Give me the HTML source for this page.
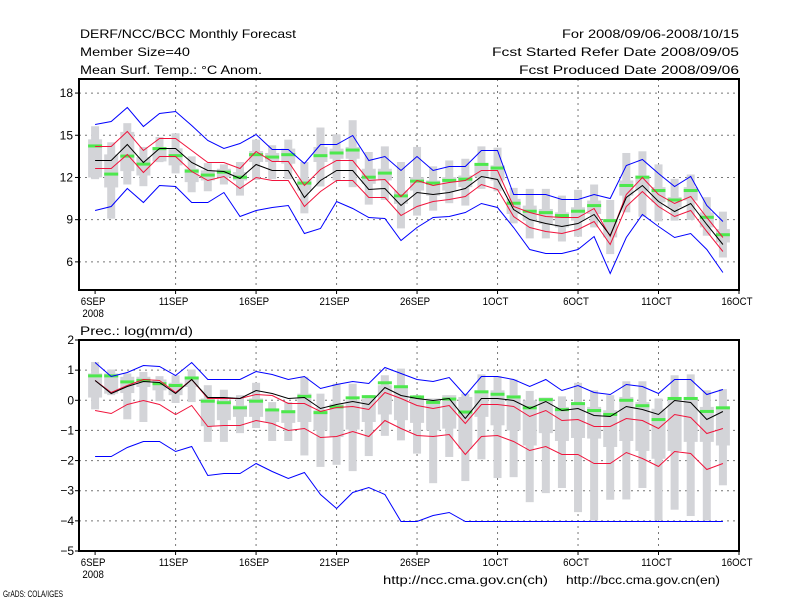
<!DOCTYPE html>
<html><head><meta charset="utf-8">
<style>
html,body{margin:0;padding:0;background:#fff;}
svg{display:block;}
text{font-family:"Liberation Sans",sans-serif;font-size:12px;fill:#000;}
</style></head>
<body>
<svg id="chart" width="800" height="600" viewBox="0 0 800 600" xmlns="http://www.w3.org/2000/svg">
<rect x="0" y="0" width="800" height="600" fill="#fff"/>
<g>
<text x="80" y="38" textLength="216" lengthAdjust="spacingAndGlyphs">DERF/NCC/BCC Monthly Forecast</text>
<text x="80" y="56" textLength="110" lengthAdjust="spacingAndGlyphs">Member Size=40</text>
<text x="80" y="74" textLength="182" lengthAdjust="spacingAndGlyphs">Mean Surf. Temp.: °C Anom.</text>
<text x="562" y="38" textLength="177" lengthAdjust="spacingAndGlyphs">For 2008/09/06-2008/10/15</text>
<text x="492" y="56" textLength="247" lengthAdjust="spacingAndGlyphs">Fcst Started Refer Date 2008/09/05</text>
<text x="519" y="74" textLength="220" lengthAdjust="spacingAndGlyphs">Fcst Produced Date 2008/09/06</text>
<text x="80" y="335" textLength="113" lengthAdjust="spacingAndGlyphs">Prec.: log(mm/d)</text>
<text x="383" y="584" textLength="165" lengthAdjust="spacingAndGlyphs">http://ncc.cma.gov.cn(ch)</text>
<text x="566" y="584" textLength="154" lengthAdjust="spacingAndGlyphs">http://bcc.cma.gov.cn(en)</text>
</g>
<text x="3" y="597" style="font-size:9px" textLength="60" lengthAdjust="spacingAndGlyphs">GrADS: COLA/IGES</text>
<g id="top"></g>
<g id="bot"></g>
</svg>
<script>
// ---- temperature panel data ----
const tBlueHi=[15.83,16.02,17.02,15.64,16.56,16.69,15.74,14.69,14.12,14.48,15.12,14.0,14.0,13.02,14.4,14.36,15.05,13.21,13.5,12.55,13.5,12.5,12.79,12.79,13.93,13.93,10.83,10.83,10.83,10.48,10.48,10.83,10.55,12.86,13.29,12.31,11.4,12.07,10.07,8.93];
const tBlueLo=[9.69,9.98,11.26,10.26,11.5,11.4,10.29,10.29,10.95,9.26,9.69,9.93,10.07,8.05,8.4,10.31,9.83,9.17,9.1,7.55,8.45,9.17,9.29,9.52,10.17,9.93,8.45,6.9,6.6,6.6,6.9,7.81,5.19,7.74,9.4,8.57,7.74,8.02,6.9,5.31];
const tRedHi=[14.21,14.21,15.31,13.98,14.83,14.83,13.93,13.1,13.07,12.69,13.86,13.14,13.14,11.43,12.62,13.21,13.21,11.79,11.9,10.71,11.79,11.5,11.67,11.83,12.55,12.5,10.0,9.57,9.29,9.17,9.17,9.81,7.86,10.83,12.02,10.83,10.17,10.71,9.21,7.74];
const tMean=[13.26,13.26,14.4,13.1,14.12,14.12,13.1,12.5,12.45,11.98,12.98,12.5,12.5,10.6,11.79,12.5,12.5,11.19,11.26,10.05,10.95,10.83,10.95,11.26,12.07,11.9,9.76,9.05,8.74,8.57,8.74,9.4,7.93,10.64,11.43,10.36,9.64,10.17,8.69,7.26];
const tRedLo=[12.69,12.69,13.69,12.4,13.55,13.5,12.45,11.83,12.07,11.26,12.02,11.83,11.83,9.98,11.07,11.83,11.83,10.64,10.64,9.33,10.0,10.31,10.48,10.71,11.55,11.19,9.29,8.45,8.21,8.02,8.33,8.93,7.26,10.0,11.07,10.0,9.29,9.69,8.21,6.79];
const tObs=[14.24,12.24,13.52,12.95,14.05,13.55,12.45,12.17,12.38,12.02,13.62,13.45,13.62,11.6,13.55,13.74,13.95,12.02,12.31,10.69,11.74,11.6,11.79,11.88,12.93,12.67,10.17,9.6,9.5,9.29,9.6,10.0,8.93,11.43,12.02,11.07,10.4,11.07,9.17,7.93];
const tWhiskHi=[15.64,14.5,15.86,14.17,14.88,15.14,13.5,13.02,12.93,13.1,14.69,14.29,14.69,13.1,15.55,15.07,16.07,13.81,14.21,13.1,14.17,12.79,13.21,13.33,14.21,14.12,11.26,11.19,11.19,10.71,11.12,11.5,10.4,13.74,13.86,12.93,11.9,12.21,10.6,9.57];
const tWhiskLo=[11.88,9.07,11.5,11.38,13.09,12.29,10.95,11.02,11.5,10.71,11.83,11.88,11.88,9.45,11.36,11.79,11.31,10.07,10.4,8.38,9.29,9.64,10.17,10.0,11.19,11.02,8.74,7.67,7.67,7.45,7.79,8.45,6.55,9.52,9.21,8.88,8.93,8.98,7.86,6.31];
const tBoxHi=[14.71,13.64,15.24,13.45,14.17,14.07,12.62,12.5,12.62,12.38,13.88,13.74,14.05,11.9,14.17,14.05,14.17,12.62,12.62,11.07,12.02,11.79,12.02,12.14,12.98,12.86,10.48,10.0,9.76,9.52,9.88,10.36,9.05,11.79,12.14,11.31,10.6,11.31,9.52,8.33];
const tBoxLo=[12.0,11.29,12.45,12.14,13.14,12.86,11.67,11.79,12.02,11.79,13.1,13.1,12.98,11.07,13.1,13.33,13.33,11.55,11.79,10.12,11.07,10.71,11.07,11.31,12.02,11.79,9.4,8.93,8.69,8.45,8.93,9.4,7.74,10.71,11.07,10.24,9.88,10.36,8.45,7.38];
const tTicks=[18,15,12,9,6];
// ---- precipitation panel data ----
const pBlueHi=[1.27,0.8,0.94,1.16,1.13,0.83,1.27,0.69,0.72,0.72,0.97,0.86,0.72,0.8,0.42,0.55,0.64,0.59,1.11,0.89,0.72,0.64,0.78,0.17,0.8,0.8,0.69,0.47,0.72,0.35,0.5,0.28,0.2,0.53,0.47,0.24,0.72,0.72,0.2,0.39];
const pBlueLo=[-1.86,-1.86,-1.55,-1.35,-1.35,-1.69,-1.5,-2.49,-2.4,-2.4,-2.07,-2.35,-2.57,-2.38,-3.1,-3.58,-3.05,-2.88,-3.1,-3.99,-4.02,-3.79,-3.71,-4.02,-4.02,-4.02,-4.02,-4.02,-4.02,-4.02,-4.02,-4.02,-4.02,-4.02,-4.02,-4.02,-4.02,-4.02,-4.02,-4.02];
const pRedHi=[0.66,0.28,0.5,0.72,0.66,0.28,0.7,0.09,0.09,0.06,0.22,0.17,-0.08,-0.08,-0.37,-0.22,-0.2,-0.28,0.28,0.06,-0.17,-0.24,-0.17,-0.75,-0.11,-0.11,-0.2,-0.53,-0.33,-0.64,-0.61,-0.86,-0.86,-0.58,-0.66,-0.91,-0.47,-0.55,-1.09,-0.91];
const pMean=[0.66,0.25,0.47,0.64,0.61,0.25,0.72,0.11,0.11,0.09,0.33,0.24,0.09,0.11,-0.24,-0.11,-0.03,-0.11,0.44,0.17,0.06,0,0.09,-0.58,0.09,0.09,0,-0.24,-0.02,-0.31,-0.25,-0.5,-0.53,-0.19,-0.28,-0.47,0.02,-0.06,-0.61,-0.37];
const pRedLo=[-0.31,-0.41,-0.13,0.02,-0.13,-0.44,-0.17,-0.85,-0.82,-0.81,-0.64,-0.75,-0.97,-0.91,-1.22,-1.2,-1.02,-1.18,-0.66,-0.91,-1.14,-1.18,-1.11,-1.77,-1.17,-1.16,-1.35,-1.64,-1.5,-1.77,-1.77,-2.08,-2.08,-1.72,-1.9,-2.18,-1.68,-1.75,-2.27,-2.07];
const pObs=[0.81,0.81,0.61,0.66,0.55,0.49,0.74,-0.03,-0.08,-0.25,-0.03,-0.32,-0.38,0.13,-0.41,-0.22,0.08,0.12,0.58,0.45,0.11,-0.07,0.04,-0.39,0.28,0.2,0.11,-0.25,0.02,-0.31,-0.11,-0.34,-0.47,0,-0.18,-0.64,0.06,0.06,-0.37,-0.25];
const pWhiskHi=[1.27,1.02,0.89,0.94,0.8,0.83,1.02,0.5,0.35,0.17,0.58,-0.06,-0.06,0.78,0.22,0.55,0.55,0.17,0.83,1.05,0.17,-0.09,0.11,0.22,0.86,0.8,0.69,0.31,0.09,0.13,0.58,0.33,0.17,0.63,0.63,0.06,0.83,0.86,0.33,0.37];
const pWhiskLo=[-0.3,0.17,-0.63,-0.72,-0.03,-0.09,-0.06,-1.38,-1.38,-1.09,-0.92,-1.35,-1.35,-1.83,-2.21,-2.14,-2.35,-1.85,-1.18,-1.33,-1.77,-2.75,-1.88,-2.68,-1.96,-2.58,-2.55,-3.38,-3.08,-2.91,-3.71,-3.99,-3.3,-3.29,-2.91,-3.99,-3.63,-3.84,-3.99,-2.82];
const pBoxHi=[0.89,0.89,0.78,0.78,0.69,0.58,0.78,0.06,0,-0.17,0.06,-0.28,-0.33,0.22,-0.33,-0.11,0,0.06,0.5,0.44,0.11,0.06,0.17,0.11,0.33,0.33,0.17,0,0.09,-0.22,-0.11,-0.22,-0.33,0.11,-0.06,-0.28,0.11,0.11,-0.22,-0.22];
const pBoxLo=[0.09,0.22,0.24,0.44,0.33,0.17,0.44,-0.86,-0.66,-0.55,-0.55,-0.72,-0.75,-0.72,-1.0,-1.22,-0.97,-0.72,-0.47,-0.66,-0.75,-1.0,-0.94,-1.61,-0.55,-0.83,-1.0,-1.5,-1.09,-1.35,-1.25,-1.27,-1.55,-1.35,-1.68,-1.94,-1.68,-1.38,-1.38,-1.5];
const pTicks=[2,1,0,-1,-2,-3,-4,-5];
// ---- x axis ----
const xTickDays=[0,5,10,15,20,25,30,35,40];
const xTickLabels=["6SEP","11SEP","16SEP","21SEP","26SEP","1OCT","6OCT","11OCT","16OCT"];

const NS="http://www.w3.org/2000/svg";
const X0=79,X1=739;
function xScale(d){return X0+(d+1)*(X1-X0)/41;}
function mk(parent,tag,attrs){const e=document.createElementNS(NS,tag);for(const k in attrs)e.setAttribute(k,attrs[k]);parent.appendChild(e);return e;}

function panel(g,top,bottom,vmin,vmax,ticks,series,labelX){
  const yS=v=>bottom-(v-vmin)*(bottom-top)/(vmax-vmin);
  ticks.forEach(t=>{const y=yS(t);
    if(t>vmin&&t<vmax){const l=mk(g,'line',{x1:X0,x2:X1,y1:y,y2:y,stroke:'#777','stroke-dasharray':'2,4','stroke-width':1});
    
    }
    const tk=mk(g,'line',{x1:X0-4,x2:X0,y1:y,y2:y,stroke:'#000'});
    
    
    const tx=mk(g,'text',{x:labelX,y:y+4,'text-anchor':'end'});tx.textContent=String(t).replace('-','\u2212');
    
    
  });
  xTickDays.forEach((d,i)=>{const x=xScale(d);
    if(i>0&&i<xTickDays.length-1){const l=mk(g,'line',{x1:x,x2:x,y1:top,y2:bottom,stroke:'#777','stroke-dasharray':'2,4'});
    
    }
    const tk=mk(g,'line',{x1:x,x2:x,y1:bottom,y2:bottom+4,stroke:'#000'});
    
    
    const tx=mk(g,'text',{x:x-2,y:bottom+15,'text-anchor':'middle',style:'font-size:11px',transform:`translate(${(x-2)*0.12},0) scale(0.88,1)`});tx.textContent=xTickLabels[i];
    
    
  });
  const yr=mk(g,'text',{x:xScale(0)-2,y:bottom+27,'text-anchor':'middle',style:'font-size:11px',transform:`translate(${(xScale(0)-2)*0.12},0) scale(0.88,1)`});yr.textContent='2008';
  
  
  const s=series;
  s.wh.forEach((v,i)=>{const x=xScale(i);
    const r=mk(g,'rect',{x:x-4,y:yS(v),width:8,height:yS(s.wl[i])-yS(v),fill:'#d3d4d8'});
    
    
    const b=mk(g,'rect',{x:x-7,y:yS(s.bh[i]),width:14,height:yS(s.bl[i])-yS(s.bh[i]),fill:'#d3d4d8'});
    
    
  });
  s.obs.forEach((v,i)=>{const x=xScale(i);
    const o=mk(g,'rect',{x:x-7,y:yS(v)-1.5,width:14,height:3,fill:'#4de84d'});
    
    
  });
  const lines=[[s.bh2,'#0000ff','max-line'],[s.bl2,'#0000ff','min-line'],[s.rh,'#f0143c','upper-spread-line'],[s.rl,'#f0143c','lower-spread-line'],[s.m,'#000','ensemble-mean-line']];
  lines.forEach(([arr,c,n])=>{
    const p=mk(g,'polyline',{points:arr.map((v,i)=>xScale(i).toFixed(1)+','+(Math.round(yS(v))+0.5).toFixed(1)).join(' '),fill:'none',stroke:c,'stroke-width':1});
    
    
  });
  const f=mk(g,'rect',{x:X0,y:top,width:X1-X0,height:bottom-top,fill:'none',stroke:'#000','stroke-width':2});
  
  
}
panel(document.getElementById('top'),79,290,4,19,tTicks,
  {wh:tWhiskHi,wl:tWhiskLo,bh:tBoxHi,bl:tBoxLo,obs:tObs,bh2:tBlueHi,bl2:tBlueLo,rh:tRedHi,rl:tRedLo,m:tMean},73);
panel(document.getElementById('bot'),340,551,-5,2,pTicks,
  {wh:pWhiskHi,wl:pWhiskLo,bh:pBoxHi,bl:pBoxLo,obs:pObs,bh2:pBlueHi,bl2:pBlueLo,rh:pRedHi,rl:pRedLo,m:pMean},74);
</script>
</body></html>
